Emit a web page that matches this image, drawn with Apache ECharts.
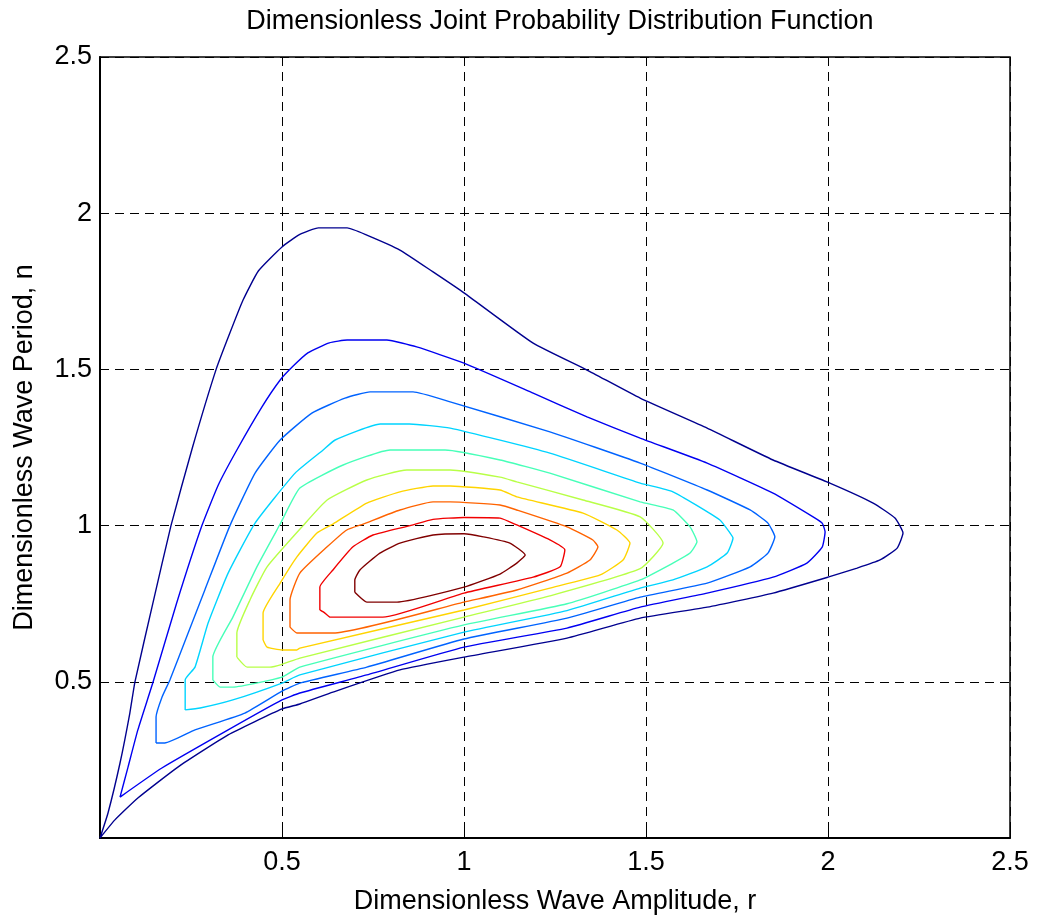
<!DOCTYPE html>
<html><head><meta charset="utf-8">
<script src="https://cdn.jsdelivr.net/npm/echarts@6/dist/echarts.min.js"></script>
<style>html,body{margin:0;padding:0;background:#fff}#c{width:1038px;height:920px}</style>
</head><body><div id="c"></div>
<script>
// Axis ticks
const xTicks = [0, 0.5, 1, 1.5, 2, 2.5];
const yTicks = [0, 0.5, 1, 1.5, 2, 2.5];

// Contour levels, outermost (lowest) to innermost (highest); points are [r, n]
const c1 = [[0,0],[0.022,0.08],[0.055,0.24],[0.082,0.4],[0.096,0.5],[0.145,0.75],[0.195,1.0],[0.254,1.25],[0.319,1.5],[0.357,1.617],[0.393,1.722],[0.435,1.815],[0.5,1.892],[0.549,1.932],[0.6,1.953],[0.679,1.953],[0.733,1.93],[0.824,1.882],[0.915,1.812],[1.0,1.745],[1.19,1.584],[1.338,1.498],[1.484,1.408],[1.668,1.312],[1.849,1.21],[2.005,1.136],[2.124,1.072],[2.184,1.024],[2.206,0.976],[2.19,0.928],[2.143,0.89],[2.08,0.864],[2.0,0.835],[1.849,0.784],[1.668,0.739],[1.484,0.704],[1.283,0.64],[1.0,0.579],[0.824,0.538],[0.64,0.467],[0.549,0.429],[0.5,0.413],[0.352,0.33],[0.214,0.227],[0.104,0.128],[0.041,0.058],[0,0]];
const c2 = [[0.055,0.131],[0.077,0.227],[0.104,0.346],[0.146,0.5],[0.21,0.75],[0.28,1.0],[0.325,1.13],[0.376,1.242],[0.445,1.38],[0.495,1.466],[0.53,1.51],[0.571,1.553],[0.63,1.585],[0.679,1.594],[0.788,1.594],[0.87,1.572],[1.0,1.52],[1.19,1.424],[1.338,1.348],[1.484,1.28],[1.668,1.2],[1.849,1.104],[1.959,1.028],[1.984,1.008],[1.992,0.98],[1.984,0.931],[1.942,0.88],[1.849,0.835],[1.668,0.784],[1.484,0.739],[1.283,0.672],[1.0,0.611],[0.733,0.522],[0.549,0.464],[0.5,0.442],[0.352,0.346],[0.17,0.224],[0.055,0.131]];
const c3 = [[0.154,0.304],[0.154,0.387],[0.17,0.45],[0.192,0.506],[0.24,0.65],[0.288,0.794],[0.357,1.0],[0.426,1.168],[0.495,1.274],[0.582,1.36],[0.673,1.408],[0.742,1.428],[0.86,1.428],[0.962,1.396],[1.236,1.3],[1.484,1.2],[1.668,1.114],[1.786,1.05],[1.835,1.008],[1.854,0.964],[1.835,0.912],[1.786,0.868],[1.668,0.816],[1.484,0.771],[1.283,0.704],[1.0,0.637],[0.733,0.547],[0.549,0.496],[0.5,0.47],[0.398,0.4],[0.261,0.346],[0.178,0.304],[0.154,0.304]];
const c4 = [[0.234,0.41],[0.234,0.506],[0.261,0.547],[0.297,0.688],[0.352,0.848],[0.426,1.008],[0.536,1.168],[0.613,1.242],[0.646,1.274],[0.77,1.325],[0.85,1.325],[0.962,1.312],[1.236,1.232],[1.484,1.136],[1.574,1.108],[1.703,1.018],[1.731,0.976],[1.739,0.96],[1.723,0.912],[1.668,0.868],[1.574,0.826],[1.484,0.8],[1.283,0.728],[1.0,0.659],[0.549,0.522],[0.5,0.496],[0.365,0.442],[0.275,0.416],[0.234,0.41]];
const c5 = [[0.31,0.506],[0.31,0.579],[0.365,0.707],[0.431,0.868],[0.495,1.005],[0.549,1.12],[0.668,1.194],[0.797,1.242],[0.948,1.242],[1.099,1.21],[1.236,1.168],[1.484,1.076],[1.574,1.05],[1.621,0.996],[1.64,0.948],[1.621,0.912],[1.574,0.88],[1.484,0.826],[1.283,0.75],[1.0,0.682],[0.549,0.547],[0.5,0.515],[0.365,0.483],[0.33,0.483],[0.31,0.506]];
const c6 = [[0.376,0.579],[0.376,0.656],[0.412,0.762],[0.459,0.868],[0.558,1.0],[0.624,1.082],[0.733,1.146],[0.843,1.178],[0.962,1.178],[1.099,1.155],[1.145,1.14],[1.327,1.082],[1.484,1.028],[1.547,0.944],[1.484,0.862],[1.236,0.775],[1.0,0.707],[0.549,0.576],[0.5,0.556],[0.467,0.547],[0.404,0.547],[0.376,0.579]];
const c7 = [[0.448,0.634],[0.448,0.72],[0.495,0.816],[0.541,0.9],[0.596,0.976],[0.64,1.005],[0.733,1.072],[0.824,1.108],[0.915,1.127],[0.962,1.127],[1.099,1.114],[1.145,1.092],[1.327,1.04],[1.42,0.986],[1.456,0.944],[1.437,0.89],[1.374,0.842],[1.236,0.8],[1.0,0.73],[0.549,0.608],[0.541,0.602],[0.5,0.602],[0.459,0.611],[0.448,0.634]];
const c8 = [[0.522,0.675],[0.522,0.762],[0.549,0.848],[0.624,0.932],[0.678,0.986],[0.723,1.005],[0.824,1.05],[0.915,1.076],[0.962,1.076],[1.099,1.066],[1.145,1.05],[1.283,0.996],[1.354,0.954],[1.368,0.932],[1.346,0.89],[1.283,0.848],[1.145,0.794],[1.0,0.755],[0.64,0.656],[0.541,0.656],[0.522,0.675]];
const c9 = [[0.604,0.73],[0.604,0.803],[0.64,0.858],[0.695,0.932],[0.75,0.97],[0.852,1.0],[0.915,1.02],[1.0,1.026],[1.099,1.024],[1.145,1.002],[1.236,0.954],[1.277,0.922],[1.264,0.868],[1.19,0.835],[1.0,0.784],[0.777,0.707],[0.632,0.707],[0.618,0.72],[0.604,0.73]];
const c10 = [[0.7,0.787],[0.7,0.826],[0.714,0.858],[0.769,0.912],[0.824,0.944],[0.915,0.97],[1.0,0.974],[1.053,0.964],[1.126,0.944],[1.168,0.906],[1.145,0.88],[1.099,0.845],[1.0,0.803],[0.816,0.755],[0.733,0.755],[0.72,0.765],[0.7,0.787]];

const contours = [c1, c2, c3, c4, c5, c6, c7, c8, c9, c10];
const contourColors = ['#00008f','#0000f1','#0063ff','#00d4ff','#47ffb8','#b8ff47','#ffd400','#ff6300','#f10000','#800000'];

const FONT = 'Liberation Sans, Arial, Helvetica, sans-serif';
const chart = echarts.init(document.getElementById('c'), null, {renderer: 'canvas'});
const tickFmt = v => (v === 0 ? '' : String(v));

chart.setOption({
  animation: false,
  backgroundColor: '#fff',
  title: {
    text: 'Dimensionless Joint Probability Distribution Function',
    left: 555, top: 3, textAlign: 'center',
    textStyle: {fontFamily: FONT, fontSize: 27, fontWeight: 'normal', color: '#000'}
  },
  grid: {left: 100, top: 57, width: 910, height: 781, show: true, borderColor: '#000', borderWidth: 1.5, backgroundColor: 'transparent'},
  xAxis: {
    type: 'value', min: xTicks[0], max: xTicks[xTicks.length - 1], interval: 0.5,
    name: 'Dimensionless Wave Amplitude, r', nameLocation: 'middle', nameGap: 50,
    nameTextStyle: {fontFamily: FONT, fontSize: 27, color: '#000'},
    axisLine: {show: true, onZero: false, lineStyle: {color: '#000', width: 2}},
    axisTick: {show: true, inside: true, length: 8, lineStyle: {color: '#000', width: 1}},
    axisLabel: {fontFamily: FONT, fontSize: 27, color: '#000', margin: 11, formatter: tickFmt},
    splitLine: {show: true, lineStyle: {color: '#000', width: 1, type: [9, 6]}}
  },
  yAxis: {
    type: 'value', min: yTicks[0], max: yTicks[yTicks.length - 1], interval: 0.5,
    name: 'Dimensionless Wave Period, n', nameLocation: 'middle', nameGap: 62,
    nameTextStyle: {fontFamily: FONT, fontSize: 27, color: '#000'},
    axisLine: {show: true, onZero: false, lineStyle: {color: '#000', width: 2}},
    axisTick: {show: true, inside: true, length: 8, lineStyle: {color: '#000', width: 1}},
    axisLabel: {fontFamily: FONT, fontSize: 27, color: '#000', margin: 8, formatter: tickFmt},
    splitLine: {show: true, lineStyle: {color: '#000', width: 1, type: [9, 6]}}
  },
  series: contours.map((c, i) => ({
    type: 'line', data: c, showSymbol: false, symbol: 'none', smooth: 0.15,
    clip: true, lineStyle: {color: contourColors[i], width: 1.4}, z: 3
  }))
});
</script>
</body></html>
